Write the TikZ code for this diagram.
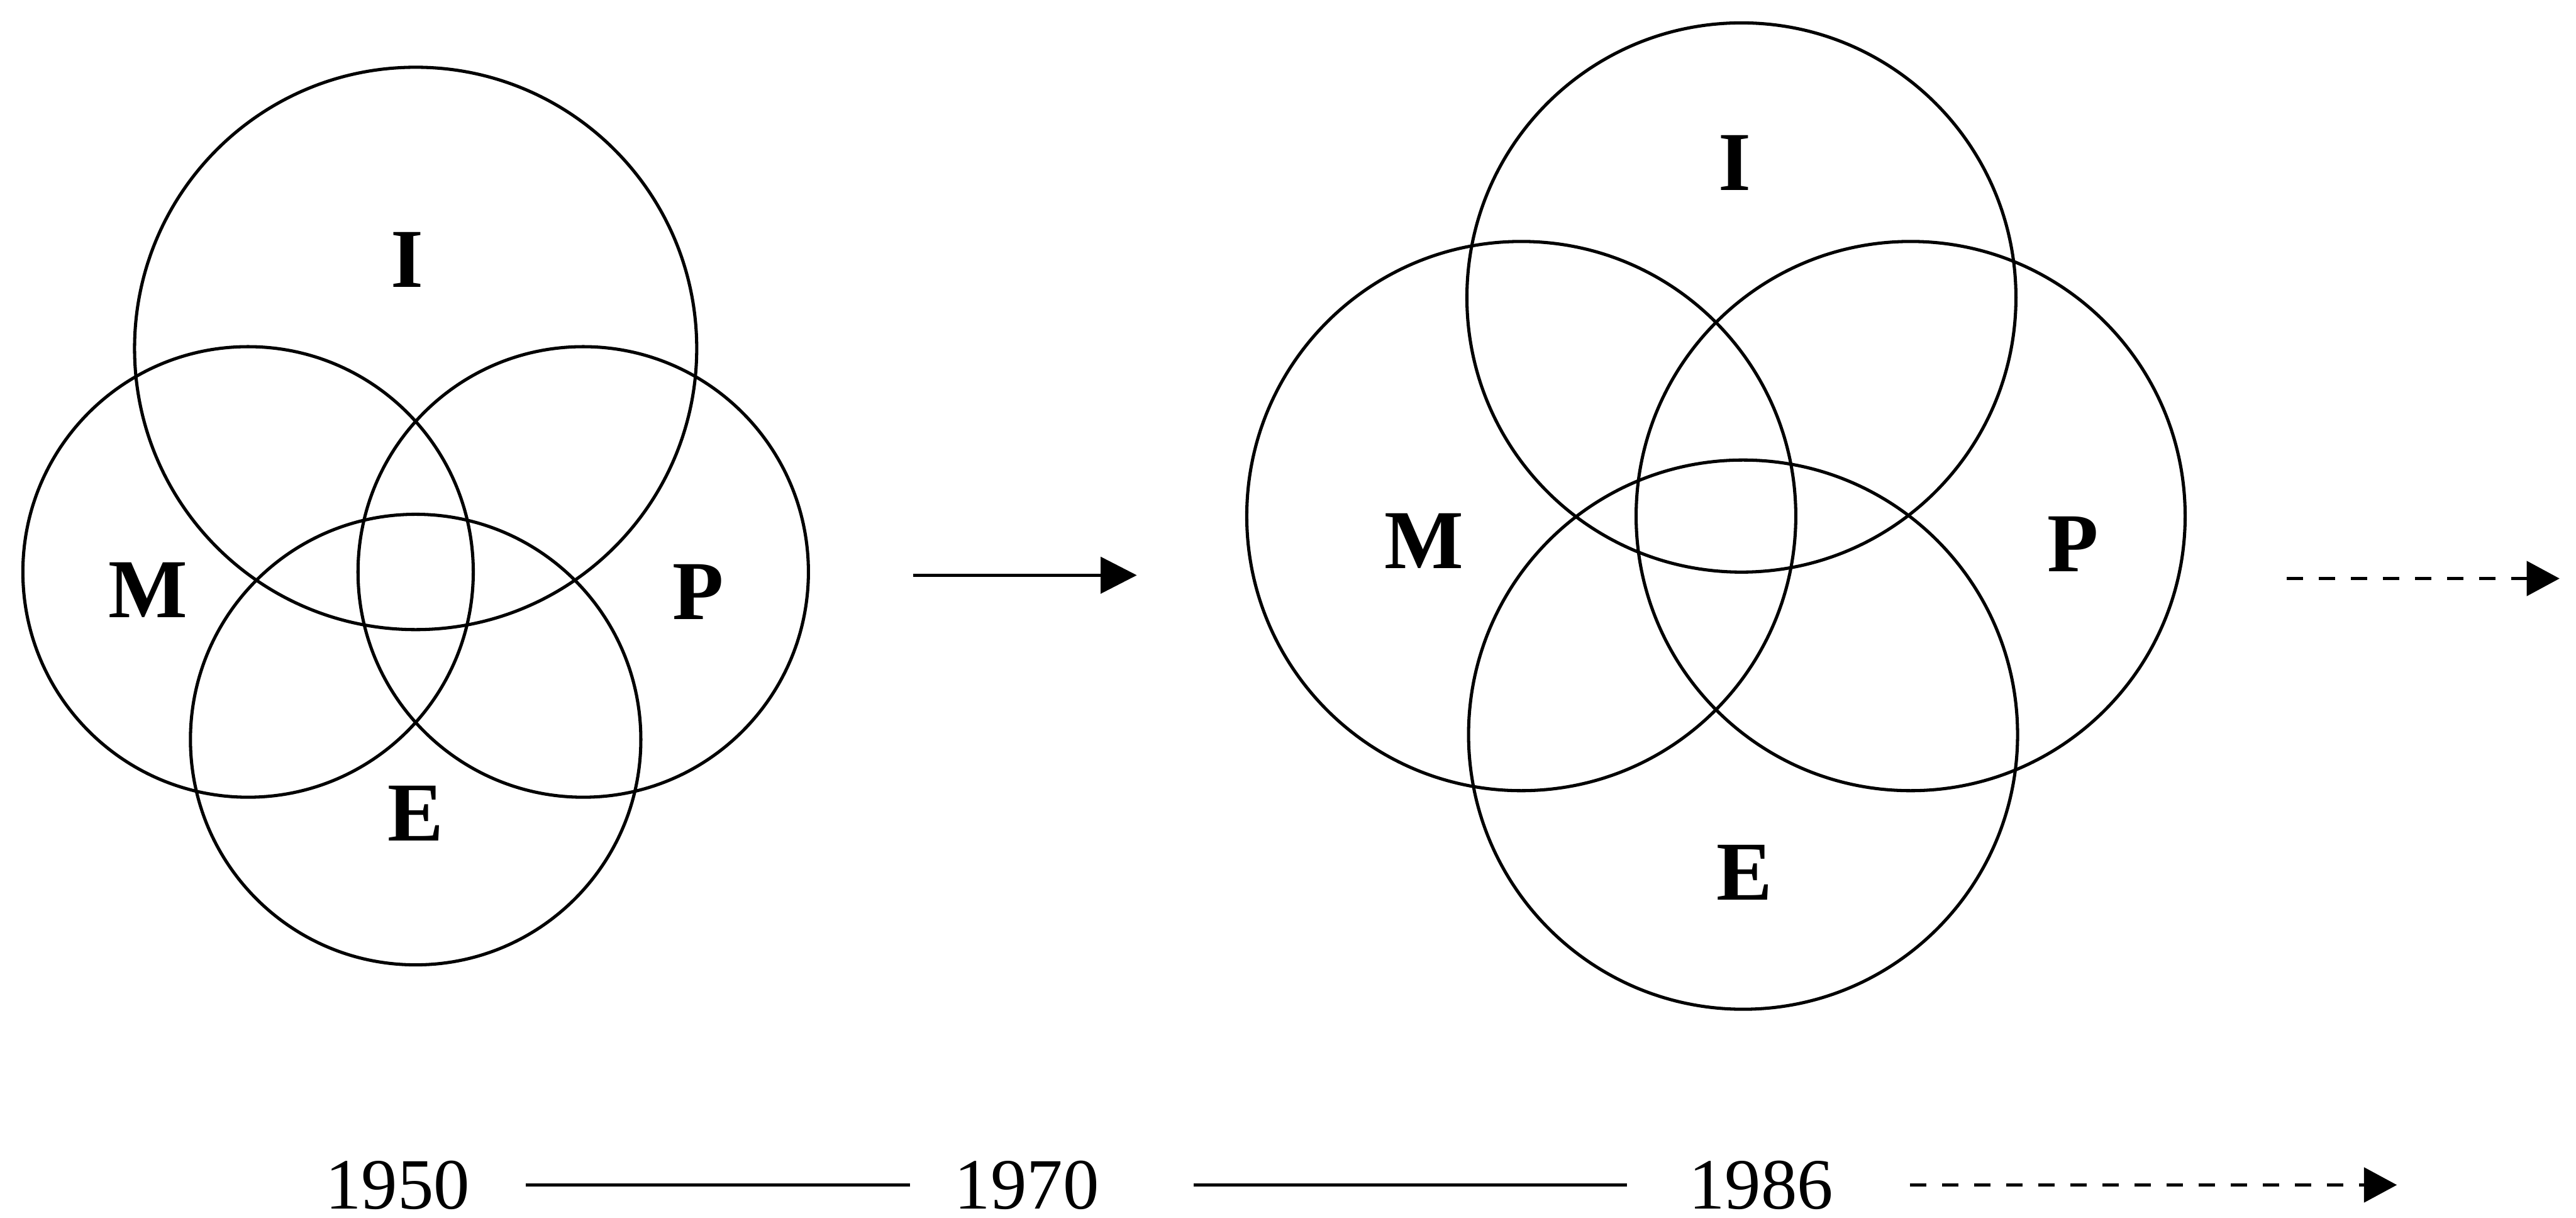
\documentclass[tikz,border=0pt]{standalone}
\usepackage{fontspec}
\setmainfont{Liberation Serif}
\usetikzlibrary{arrows.meta}

\begin{document}
\begin{tikzpicture}[x=0.01cm, y=-0.01cm,
		ring/.style     = {draw, circle, line width=0.55pt, inner sep=0pt},
		lbl/.style      = {font=\fontsize{14.5}{17}\selectfont\bfseries, inner sep=0pt},
		year/.style     = {font=\fontsize{12.5}{15}\selectfont, inner sep=0pt},
		line/.style     = {line width=0.6pt, -{Triangle[length=2.2mm, width=2.2mm]}},
		dashline/.style = {line width=0.6pt, dash pattern=on 1mm off 0.95mm,
			-{Triangle[length=2mm, width=2.1mm]}}
		]
		\useasboundingbox (0,0) rectangle (1568,741);
		
		% 1950 group
		\node[ring, minimum size=3.42cm] (I1) at (253,212) {};
		\node[ring, minimum size=2.74cm] (M1) at (151,348) {};
		\node[ring, minimum size=2.74cm] (P1) at (355,348) {};
		\node[ring, minimum size=2.74cm] (E1) at (253,450) {};
		\node[lbl] (I1l) at (248,158) {I};
		\node[lbl] (M1l) at (90,359) {M};
		\node[lbl] (P1l) at (425,360) {P};
		\node[lbl] (E1l) at (253,495) {E};
		
		% 1986 group
		\node[ring, minimum size=3.34cm] (I2) at (1060,181) {};
		\node[ring, minimum size=3.34cm] (M2) at (926,314) {};
		\node[ring, minimum size=3.34cm] (P2) at (1163,314) {};
		\node[ring, minimum size=3.34cm] (E2) at (1061,447) {};
		\node[lbl] (I2l) at (1056,99) {I};
		\node[lbl] (M2l) at (867,329) {M};
		\node[lbl] (P2l) at (1262,331) {P};
		\node[lbl] (E2l) at (1062,531) {E};
		
		\coordinate (a1s) at (556,350);
		\coordinate (a1e) at (692,350);
		\coordinate (a2s) at (1392,352);
		\coordinate (a2e) at (1558,352);
		\draw[line] (a1s) -- (a1e);
		\draw[dashline] (a2s) -- (a2e);
		
		% time line
		\node[year] (y1950) at (242,721) {1950};
		\node[year] (y1970) at (625,721) {1970};
		\node[year] (y1986) at (1072,721) {1986};
		\coordinate (tend) at (1459,721);
		\draw[line width=0.6pt, shorten <=0.335cm, shorten >=0.265cm] (y1950.east) -- (y1970.west);
		\draw[line width=0.6pt, shorten <=0.57cm, shorten >=0.37cm] (y1970.east) -- (y1986.west);
		\draw[dashline, shorten <=0.46cm] (y1986.east) -- (tend);
	\end{tikzpicture}
\end{document}
